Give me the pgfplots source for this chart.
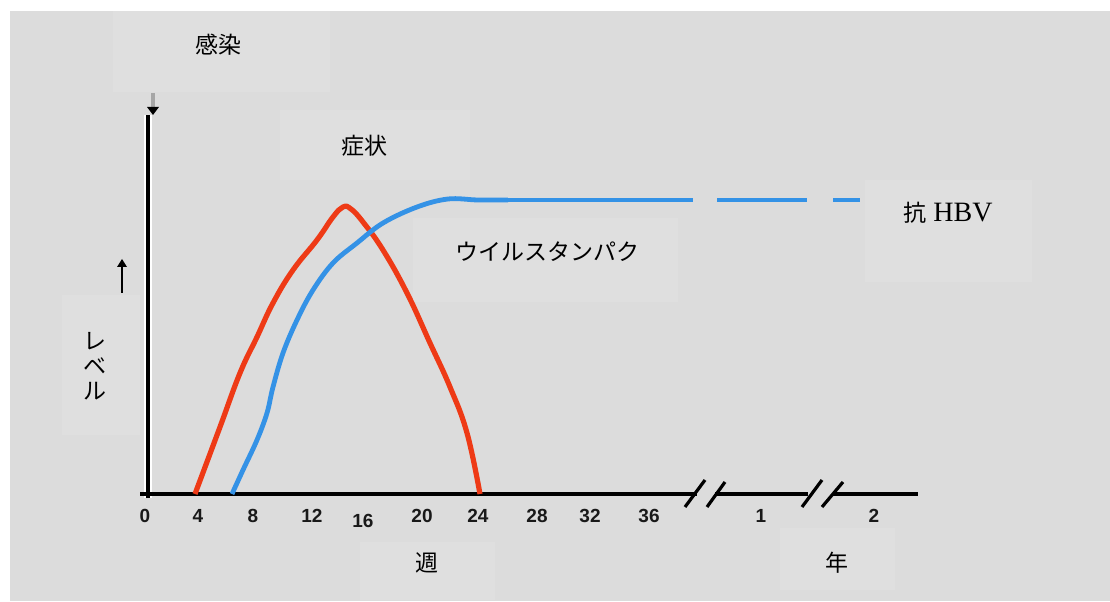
\documentclass[border=0pt]{standalone}
\usepackage{fontspec}
\setmainfont{Liberation Serif}
\newfontfamily\cjk{Noto Sans CJK JP}
\newfontfamily\ticksans{Liberation Sans}
\usepackage{pgfplots}
\pgfplotsset{compat=1.18}
\definecolor{bg}{HTML}{DCDCDC}
\definecolor{boxc}{HTML}{DFDFDF}
\definecolor{redc}{RGB}{238,58,22}
\definecolor{bluec}{RGB}{52,146,230}
\begin{document}
\begin{tikzpicture}
\begin{axis}[
  set layers,
  x=0.5pt, y=0.5pt,
  xmin=-148, xmax=962, ymin=-107, ymax=494,
  axis lines=middle,
  axis line style={draw=none},
  clip=false,
  ytick=\empty,
  xtick={-3,50,105,164,215,274,330,389,442,501,613,726},
  xticklabels={0,4,8,12,\raisebox{-2.5pt}{16},20,24,28,32,36,1,2},
  major tick length=0pt,
  xticklabel style={anchor=base, yshift=-14pt, inner sep=0pt, font=\ticksans\bfseries\fontsize{9.5}{10}\selectfont, text=black!90},
]
\begin{pgfonlayer}{axis background}
% background
\fill[white] (axis cs:-148,-107) rectangle (axis cs:962,494);
\fill[bg] (axis cs:-138,-107) rectangle (axis cs:962,483);
% text boxes
\fill[boxc] (axis cs:-35,402) rectangle (axis cs:182,483);
\fill[boxc] (axis cs:132,314) rectangle (axis cs:322,384);
\fill[boxc] (axis cs:265,192) rectangle (axis cs:530,276);
\fill[boxc] (axis cs:717,212) rectangle (axis cs:884,314);
\fill[boxc] (axis cs:-86,59) rectangle (axis cs:-8,199);
\fill[boxc] (axis cs:212,-106) rectangle (axis cs:347,-48);
\fill[boxc] (axis cs:632,-96) rectangle (axis cs:747,-34);
\end{pgfonlayer}
% axes
\draw[white, line width=4pt] (axis cs:0,-4) -- (axis cs:0,379);
\draw[black, line width=2.4pt] (axis cs:0,-4) -- (axis cs:0,379);
\draw[black, line width=1.8pt] (axis cs:-8,0) -- (axis cs:549,0);
\draw[black, line width=1.8pt] (axis cs:567,0) -- (axis cs:660,0);
\draw[black, line width=1.8pt] (axis cs:685,0) -- (axis cs:770,0);
\draw[black, line width=1.6pt] (axis cs:537,-13) -- (axis cs:557,14);
\draw[black, line width=1.6pt] (axis cs:559,-13) -- (axis cs:577,12);
\draw[black, line width=1.6pt] (axis cs:654,-13) -- (axis cs:674,14);
\draw[black, line width=1.6pt] (axis cs:674,-13) -- (axis cs:695,12);
% infection arrow
\draw[gray!70, line width=1.6pt] (axis cs:5,401) -- (axis cs:5,387);
\fill[black] (axis cs:-1,387) -- (axis cs:11,387) -- (axis cs:5,379) -- cycle;
% level arrow
\draw[black, line width=0.9pt] (axis cs:-26,201) -- (axis cs:-26,228);
\fill[black] (axis cs:-31,227) -- (axis cs:-21,227) -- (axis cs:-26,235) -- cycle;
% red curve (symptoms)
\addplot[redc, line width=2.6pt, smooth, tension=0.7] coordinates {
(47,0) (72,67) (92,121) (109,157) (125,191) (145,224) (169,254) (185,277) (195,287) (203,285) (215,272) (235,244) (259,201) (282,151) (302,107) (319,61) (332,0)
};
% blue curve (anti-HBV)
\addplot[bluec, line width=2.4pt, smooth, tension=0.6] coordinates {
(84,0) (95,24) (109,54) (119,81) (125,107) (135,141) (149,174) (165,204) (185,231) (209,251) (235,271) (269,287) (300,295) (330,294) (360,294)
};
\addplot[bluec, line width=2.4pt] coordinates {(360,294) (545,294)};
\addplot[bluec, line width=2.4pt] coordinates {(569,294) (659,294)};
\addplot[bluec, line width=2.4pt] coordinates {(685,294) (712,294)};
% texts
\node[font=\cjk\fontsize{11.5}{12}\selectfont] at (axis cs:70,449) {感染};
\node[font=\cjk\fontsize{11.5}{12}\selectfont] at (axis cs:216,348) {症状};
\node[font=\cjk\fontsize{11.5}{12}\selectfont] at (axis cs:399,242) {ウイルスタンパク};
\node[font=\fontsize{14}{15}\selectfont] at (axis cs:800,281) {{\cjk\fontsize{11.5}{12}\selectfont 抗} HBV};
\node[font=\cjk\fontsize{11.5}{12.5}\selectfont, align=center] at (axis cs:-53,128) {レ\\ベ\\ル};
\node[font=\cjk\fontsize{11.5}{12}\selectfont] at (axis cs:279,-69) {週};
\node[font=\cjk\fontsize{11.5}{12}\selectfont] at (axis cs:689,-69) {年};
\end{axis}
\end{tikzpicture}
\end{document}
